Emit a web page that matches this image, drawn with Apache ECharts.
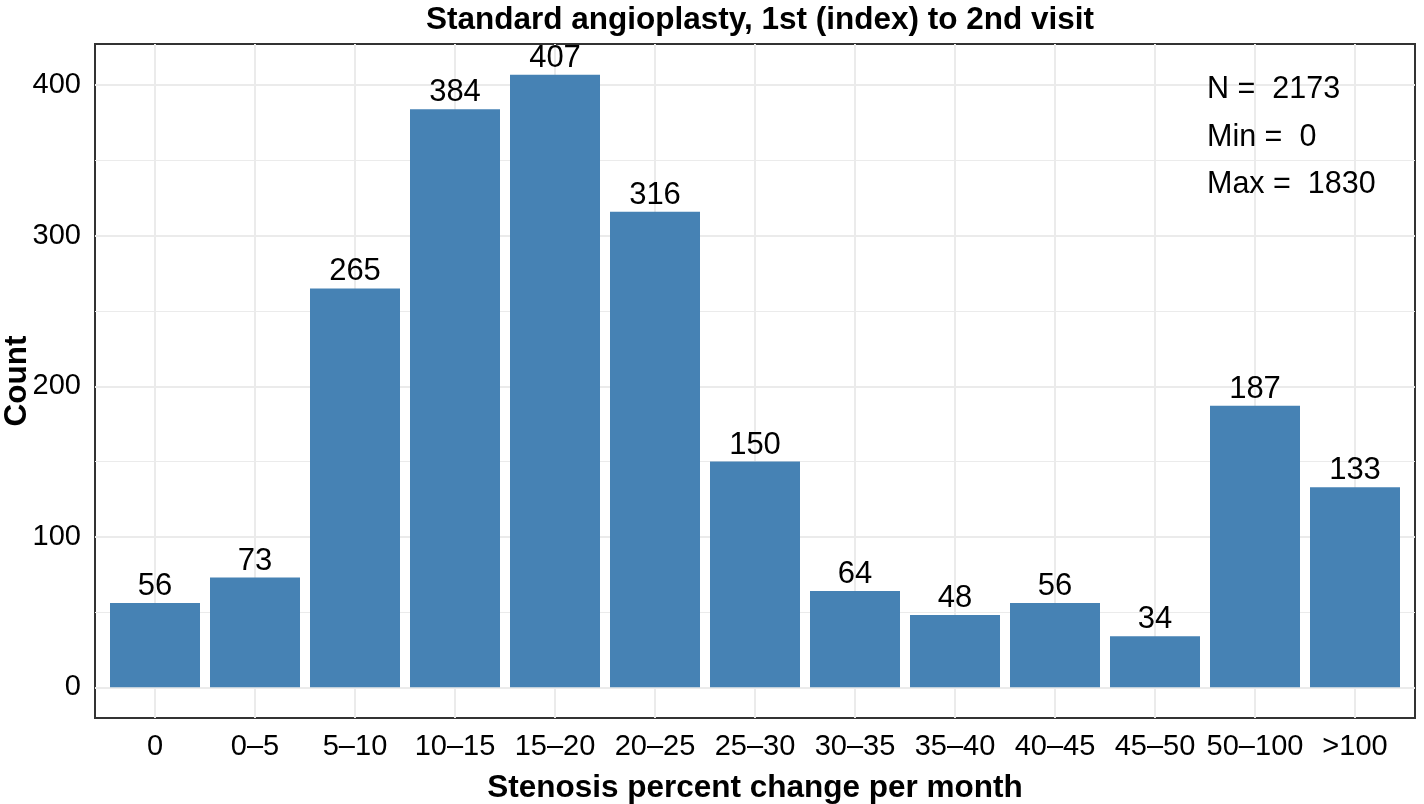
<!DOCTYPE html>
<html>
<head>
<meta charset="utf-8">
<script src="https://cdn.jsdelivr.net/npm/echarts@6/dist/echarts.min.js"></script>
<style>
html,body{margin:0;padding:0;background:#fff;}
#chart{width:1424px;height:804px;}
</style>
</head>
<body>
<div id="chart"></div>
<script>
const categories = ['0','0–5','5–10','10–15','15–20','20–25','25–30','30–35','35–40','40–45','45–50','50–100','>100'];
const counts = [56, 73, 265, 384, 407, 316, 150, 64, 48, 56, 34, 187, 133];
const yTicks = [0, 100, 200, 300, 400];
const yMinorTicks = [50, 150, 250, 350];
const yRange = [-20.35, 427.35];
const xRange = [-0.6, 12.6];
const annotationLines = ['N =  2173', 'Min =  0', 'Max =  1830'];
const titleText = 'Standard angioplasty, 1st (index) to 2nd visit';
const xTitle = 'Stenosis percent change per month';
const yTitle = 'Count';

const FONT = "'Liberation Sans', Arial, Helvetica, sans-serif";
const catIdx = categories.map((c, i) => i);

const chart = echarts.init(document.getElementById('chart'), null, {renderer: 'canvas'});

const gridLines = [
  ...yTicks.map(v => ({yAxis: v, lineStyle: {width: 2}})),
  ...yMinorTicks.map(v => ({yAxis: v, lineStyle: {width: 1}})),
  ...catIdx.map(i => ({xAxis: i, lineStyle: {width: 2}}))
];

chart.setOption({
  animation: false,
  backgroundColor: '#ffffff',
  textStyle: {fontFamily: FONT},
  title: {
    text: titleText,
    left: 755,
    textAlign: 'center',
    top: -1,
    textStyle: {fontFamily: FONT, fontSize: 31.5, fontWeight: 'bold', color: '#000'}
  },
  grid: {
    left: 95, right: 9, top: 44, bottom: 86,
    outerBoundsMode: 'none',
    containLabel: false,
    show: true, borderColor: '#333333', borderWidth: 2, backgroundColor: '#ffffff'
  },
  xAxis: {
    type: 'value',
    min: xRange[0], max: xRange[1],
    name: xTitle,
    nameLocation: 'middle',
    nameGap: 54,
    nameMoveOverlap: false,
    nameTextStyle: {fontFamily: FONT, fontSize: 31.5, fontWeight: 'bold', color: '#000'},
    axisLine: {show: false},
    axisTick: {show: true, customValues: catIdx, length: 8, lineStyle: {color: '#333', width: 2}},
    axisLabel: {
      show: true, customValues: catIdx, margin: 14,
      formatter: v => categories[Math.round(v)],
      fontFamily: FONT, fontSize: 29, color: '#000'
    },
    splitLine: {show: false}
  },
  yAxis: {
    type: 'value',
    min: yRange[0], max: yRange[1],
    name: yTitle,
    nameLocation: 'middle',
    nameGap: 62,
    nameRotate: 90,
    nameMoveOverlap: false,
    nameTextStyle: {fontFamily: FONT, fontSize: 31.5, fontWeight: 'bold', color: '#000'},
    axisLine: {show: false},
    axisTick: {show: true, customValues: yTicks, length: 8, lineStyle: {color: '#333', width: 2}},
    axisLabel: {
      show: true, customValues: yTicks, margin: 14,
      fontFamily: FONT, fontSize: 29, color: '#000'
    },
    splitLine: {show: false}
  },
  graphic: [{
    type: 'text',
    left: 1207,
    top: 66,
    z: 10,
    style: {
      text: annotationLines.join('\n'),
      font: '30.5px ' + FONT,
      fill: '#000',
      lineHeight: 47.5
    }
  }],
  series: [
    {
      type: 'line',
      data: [],
      z: 1,
      silent: true,
      markLine: {
        silent: true,
        z: 1,
        animation: false,
        symbol: ['none', 'none'],
        label: {show: false},
        lineStyle: {color: '#EBEBEB', type: 'solid'},
        emphasis: {disabled: true},
        data: gridLines
      }
    },
    {
      type: 'bar',
      z: 6,
      barWidth: 90,
      data: counts.map((v, i) => [i, v]),
      itemStyle: {color: '#4682B4'},
      label: {
        show: true, position: 'top', distance: 1,
        fontFamily: FONT, fontSize: 31, color: '#000'
      }
    }
  ]
});
</script>
</body>
</html>
